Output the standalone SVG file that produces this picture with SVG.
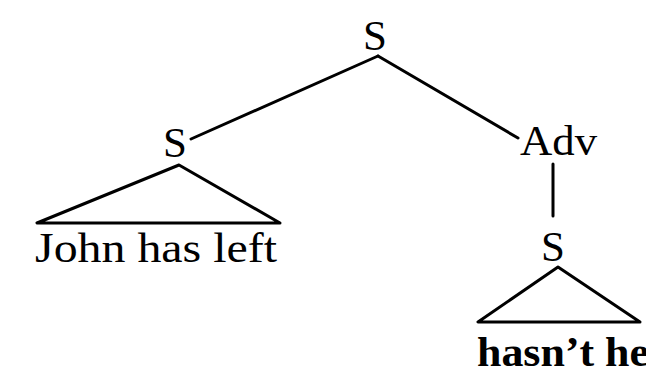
<svg xmlns="http://www.w3.org/2000/svg" width="646" height="368" viewBox="0 0 646 368">
  <style>
    .lbl { font-family: "Liberation Serif", "Times New Roman", serif; font-size: 43px; fill: #000; }
    .bold { font-weight: bold; }
    .edge { stroke: #000; stroke-width: 3; fill: none; stroke-linecap: round; stroke-linejoin: round; }
  </style>
  <rect width="646" height="368" fill="#fff"/>
  <g id="connectors">
    <line class="edge" x1="378" y1="56" x2="191" y2="139"/>
    <line class="edge" x1="378" y1="56" x2="518" y2="138"/>
    <line class="edge" x1="553" y1="164" x2="553" y2="216"/>
    <polygon class="edge" points="179,165 37,223 280,223"/>
    <polygon class="edge" points="558,267 478,322 640,322"/>
  </g>
  <g id="node-root">
    <text class="lbl" x="375" y="50" text-anchor="middle">S</text>
  </g>
  <g id="node-s-left">
    <text class="lbl" x="175" y="157" text-anchor="middle">S</text>
  </g>
  <g id="node-adv">
    <text class="lbl" x="520" y="155" textLength="77" lengthAdjust="spacingAndGlyphs">Adv</text>
  </g>
  <g id="node-s-right">
    <text class="lbl" x="553" y="261" text-anchor="middle">S</text>
  </g>
  <g id="node-john">
    <text class="lbl" x="35" y="262" textLength="242" lengthAdjust="spacingAndGlyphs">John has left</text>
  </g>
  <g id="node-hasnt">
    <text class="lbl bold" x="477" y="366" textLength="172" lengthAdjust="spacingAndGlyphs">hasn’t he</text>
  </g>
</svg>
